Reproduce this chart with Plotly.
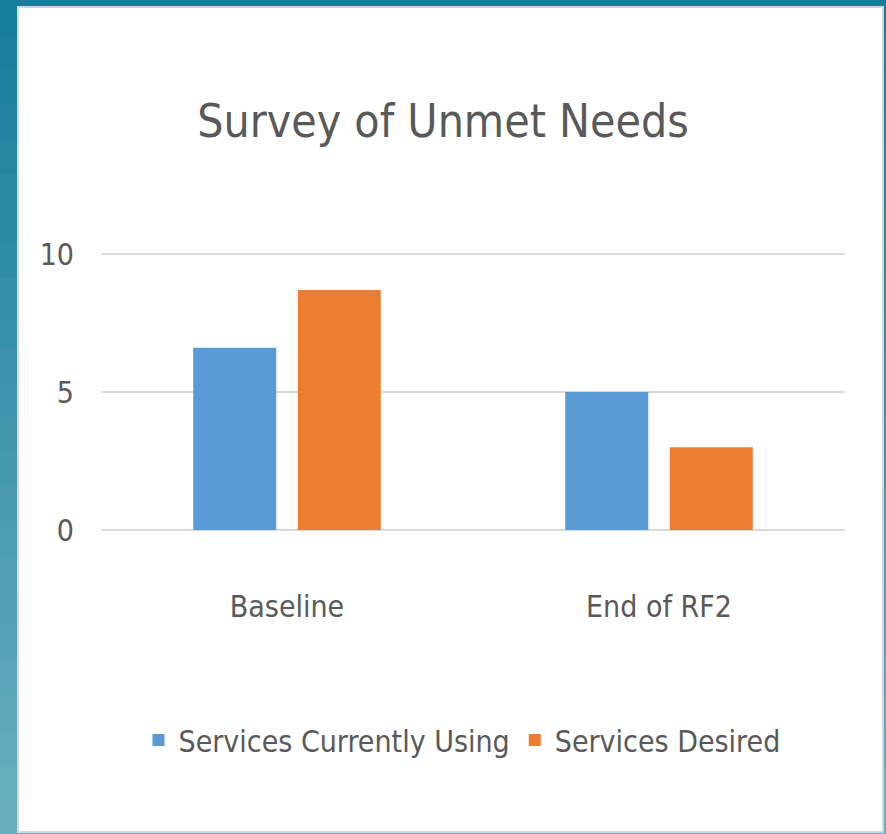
import plotly.graph_objects as go

categories = ["Baseline", "End of RF2"]
series_names = ["Services Currently Using", "Services Desired"]
currently_using = [6.6, 5.0]
desired = [8.7, 3.0]
y_ticks = [0, 5, 10]

W, H = 886, 834
ML, MR, MT, MB = 101, 41, 252, 304
PW = W - ML - MR
PH = H - MT - MB
UNIT_PX = 27.6  # pixels per y unit in the reference
Y_TOP = PH / UNIT_PX

def px_x(px):
    return (px - ML) / PW

def px_y(py):
    return (H - MB - py) / PH

FONT = "DejaVu Sans Condensed, Liberation Sans, sans-serif"
TXT = "#595959"
FS = 30

fig = go.Figure()
fig.add_trace(go.Bar(name=series_names[0], x=categories, y=currently_using,
                     marker=dict(color="#5B9BD5", line=dict(width=0))))
fig.add_trace(go.Bar(name=series_names[1], x=categories, y=desired,
                     marker=dict(color="#ED7D31", line=dict(width=0))))

# teal gradient background bands
shapes = []
top_c = (0x17, 0x7d, 0x9b)
bot_c = (0x69, 0xae, 0xbe)
N = 24
for i in range(N):
    t = i / (N - 1)
    c = tuple(int(round(top_c[k] + (bot_c[k] - top_c[k]) * t)) for k in range(3))
    y0 = i * H / N
    y1 = (i + 1) * H / N + 1
    shapes.append(dict(type="rect", xref="paper", yref="paper", layer="below",
                       x0=px_x(0), x1=px_x(W), y0=px_y(y0), y1=px_y(y1),
                       fillcolor="rgb(%d,%d,%d)" % c, line=dict(width=0)))
# white card
shapes.append(dict(type="rect", xref="paper", yref="paper", layer="below",
                   x0=px_x(18), x1=px_x(883), y0=px_y(7), y1=px_y(832),
                   fillcolor="white", line=dict(color="#d6d6d6", width=2)))

fig.update_layout(
    width=W, height=H,
    margin=dict(l=ML, r=MR, t=MT, b=MB, pad=0),
    paper_bgcolor="#177d9b",
    plot_bgcolor="rgba(0,0,0,0)",
    shapes=shapes,
    barmode="group",
    bargap=0.438,
    bargroupgap=0.206,
    font=dict(family=FONT, color=TXT, size=FS),
    title=dict(text="Survey of Unmet Needs", x=0.5, xref="container",
               y=1 - 121 / H, yref="container", xanchor="center", yanchor="middle",
               font=dict(family=FONT, size=46, color=TXT)),
    showlegend=True,
    legend=dict(orientation="h", x=px_x(462), xanchor="center", y=px_y(740), yanchor="middle",
                font=dict(family=FONT, size=FS, color=TXT),
                bgcolor="rgba(0,0,0,0)", itemclick=False, itemdoubleclick=False,
                traceorder="normal"),
    xaxis=dict(showgrid=False, showline=False, zeroline=False, ticks="",
               ticklabelstandoff=56, tickfont=dict(size=FS, color=TXT, family=FONT)),
    yaxis=dict(range=[0, Y_TOP], tickvals=y_ticks, showgrid=True, gridcolor="#d9d9d9",
               gridwidth=2, zeroline=True, zerolinecolor="#d9d9d9", zerolinewidth=2,
               showline=False, ticks="", ticklabelstandoff=26,
               tickfont=dict(size=FS, color=TXT, family=FONT)),
)

fig.write_html("out.html",
               config={"displayModeBar": False, "staticPlot": True},
               post_script="document.body.style.margin='0';document.body.style.overflow='hidden';")
